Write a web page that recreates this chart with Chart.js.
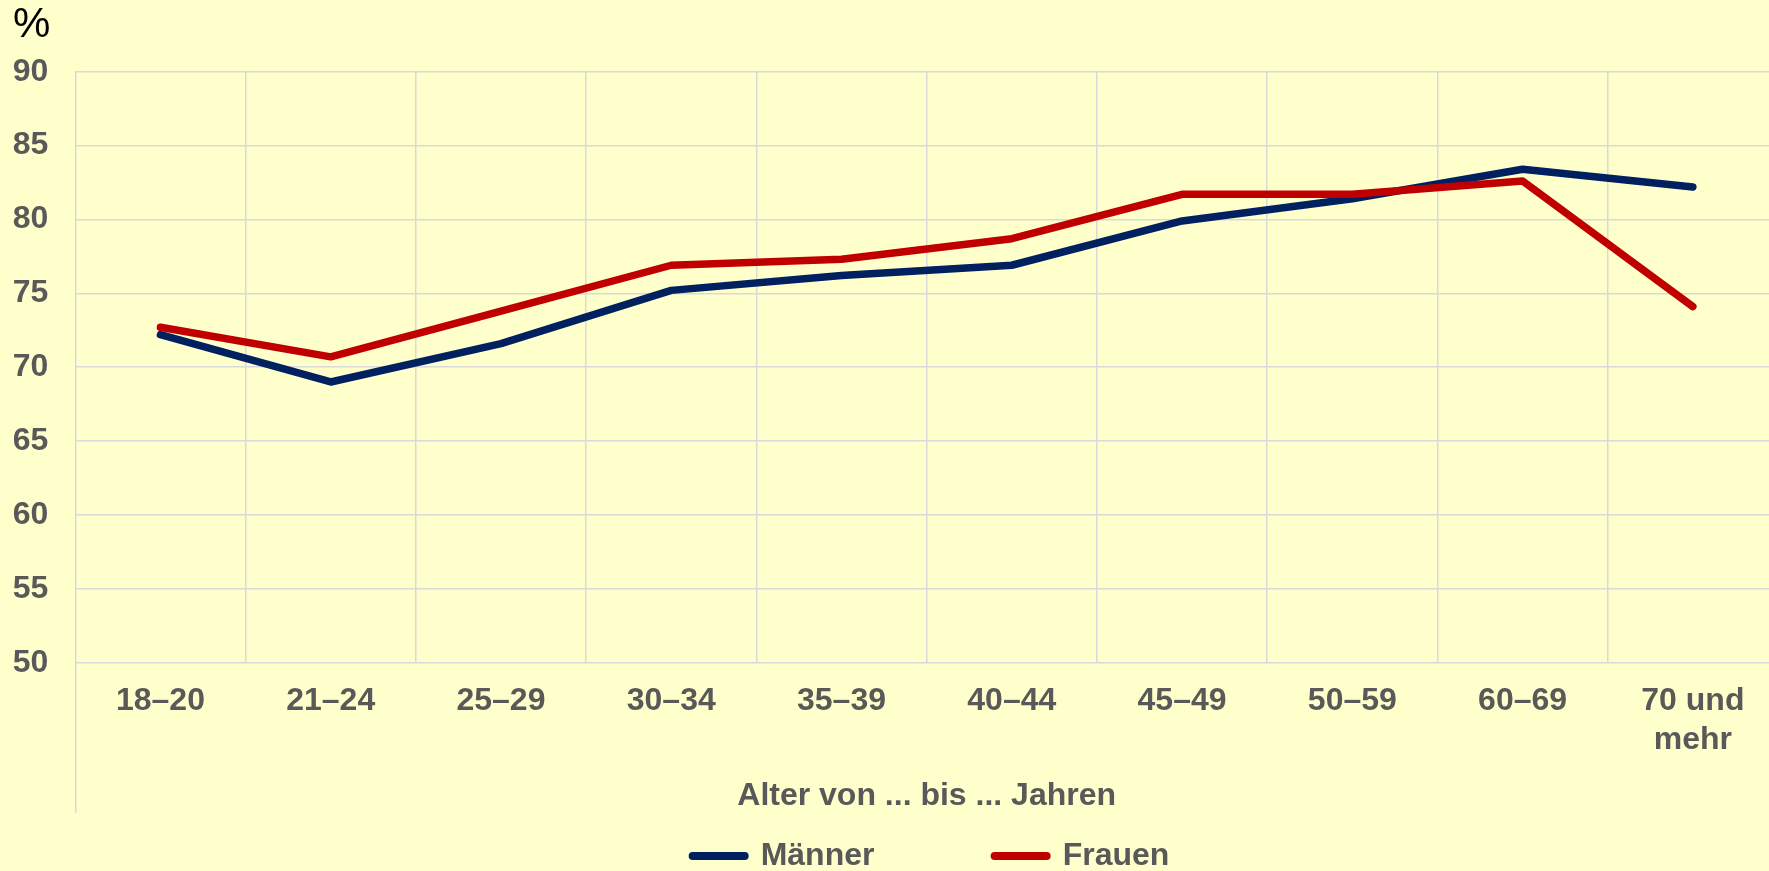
<!DOCTYPE html>
<html>
<head>
<meta charset="utf-8">
<script src="https://cdn.jsdelivr.net/npm/chart.js@4.4.1/dist/chart.umd.min.js"></script>
<style>
  html, body { margin: 0; padding: 0; background: #FFFFCC; }
  #wrap { position: relative; width: 1769px; height: 871px; overflow: hidden; background: #FFFFCC; }
  #c { position: absolute; left: 0; top: 0; }
</style>
</head>
<body>
<div id="wrap"><canvas id="c" width="1849" height="882" style="width:1849px;height:882px"></canvas></div>
<script>
// ---- data ----
const categories = ['18–20', '21–24', '25–29', '30–34', '35–39', '40–44', '45–49', '50–59', '60–69', ['70 und', 'mehr']];
const maenner = [72.2, 69.0, 71.6, 75.2, 76.2, 76.9, 79.9, 81.4, 83.4, 82.2];
const frauen  = [72.7, 70.7, 73.8, 76.9, 77.3, 78.7, 81.7, 81.7, 82.6, 74.1];
const seriesNames = ['Männer', 'Frauen'];
const yTickMin = 50, yTickMax = 90, yTickStep = 5;
const unitLabel = '%';
const xAxisTitle = 'Alter von ... bis ... Jahren';

const FONT = "'Liberation Sans', Arial, Helvetica, sans-serif";
Chart.defaults.font.family = FONT;
const GRID = '#D9D9D9';
const TXT = '#595959';
const LW = 7.5;

new Chart(document.getElementById('c'), {
  type: 'line',
  data: {
    labels: categories,
    datasets: [
      { label: seriesNames[0], data: maenner, borderColor: '#002060', backgroundColor: '#002060',
        borderWidth: LW, pointRadius: 0, tension: 0, borderCapStyle: 'round', borderJoinStyle: 'round', order: 1 },
      { label: seriesNames[1], data: frauen, borderColor: '#C00000', backgroundColor: '#C00000',
        borderWidth: LW, pointRadius: 0, tension: 0, borderCapStyle: 'round', borderJoinStyle: 'round', order: 0 }
    ]
  },
  options: {
    responsive: false,
    animation: false,
    devicePixelRatio: 1,
    layout: { padding: { left: 13, right: 0, top: 0, bottom: 0 } },
    plugins: {
      tooltip: { enabled: false },
      title: {
        display: true, text: unitLabel, align: 'start', color: '#000000',
        font: { size: 42, weight: 'normal', family: FONT },
        padding: { top: 0, bottom: 21.3 }
      },
      legend: {
        position: 'bottom',
        labels: {
          usePointStyle: true,
          pointStyle: 'line',
          pointStyleWidth: 52,
          padding: 120.2,
          color: TXT,
          font: { size: 32, weight: 'bold', family: FONT },
          sort: (a, b) => a.datasetIndex - b.datasetIndex,
          generateLabels: (chart) => Chart.defaults.plugins.legend.labels.generateLabels(chart).map(l => {
            const ds = chart.data.datasets[l.datasetIndex];
            return Object.assign({}, l, { lineWidth: 8, lineCap: 'round', pointStyle: 'line', strokeStyle: ds.borderColor, fillStyle: ds.borderColor });
          })
        }
      }
    },
    scales: {
      x: {
        offset: true,
        grid: {
          offset: true, color: GRID, lineWidth: 1.5,
          drawTicks: true, tickLength: 150,
          tickColor: (c) => (c.index === 0 ? GRID : 'rgba(0,0,0,0)'),
          tickWidth: 1.5
        },
        border: { display: false },
        ticks: {
          color: TXT, font: { size: 32, weight: 'bold', family: FONT, lineHeight: 1.2 },
          mirror: true, padding: -57.8, maxRotation: 0, minRotation: 0, autoSkip: false
        },
        title: {
          display: true, text: xAxisTitle, color: TXT,
          font: { size: 32, weight: 'bold', family: FONT, lineHeight: 1.2 },
          padding: { top: 0, bottom: -95.4 }
        },
        afterFit: (s) => { s.height = 57.1; }
      },
      y: {
        min: yTickMin, max: yTickMax,
        grid: { color: GRID, lineWidth: 1.5, drawTicks: false },
        border: { display: false },
        ticks: {
          stepSize: yTickStep, color: TXT, padding: 27,
          font: { size: 32, weight: 'bold', family: FONT, lineHeight: 1.2 }
        },
        afterFit: (s) => { s.width = 62.3; }
      },
      y2: {
        position: 'right',
        grid: { display: false, drawOnChartArea: false, drawTicks: false },
        border: { display: false },
        ticks: { display: false },
        afterFit: (s) => { s.width = 71; }
      }
    }
  }
});
</script>
</body>
</html>
